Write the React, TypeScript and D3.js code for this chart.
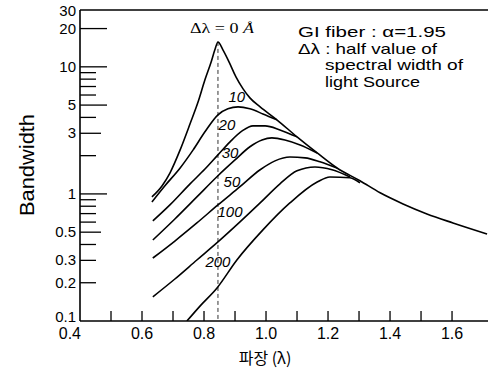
import { useEffect, useRef } from 'react';
import * as d3 from 'd3';

const W = 488;
const H = 371;

// wavelength (um) and bandwidth for each spectral width
const lambda0 = [0.632, 0.665, 0.69, 0.723, 0.755, 0.781, 0.803, 0.823, 0.835, 0.845, 0.861, 0.881, 0.903, 0.926, 0.948, 0.981, 1.035, 1.1, 1.165, 1.229, 1.303, 1.368, 1.442, 1.519, 1.603, 1.713];
const bw0 = [0.947, 1.16, 1.46, 2.22, 3.56, 5.3, 7.9, 10.9, 13.6, 15.7, 13.6, 10.9, 8.34, 6.71, 5.7, 4.84, 3.83, 2.81, 2.1, 1.6, 1.27, 1.02, 0.834, 0.696, 0.591, 0.484];

const lambda10 = [0.632, 0.674, 0.723, 0.765, 0.803, 0.845, 0.877, 0.91, 0.948, 0.99, 1.035];
const bw10 = [0.865, 1.16, 1.6, 2.22, 3.08, 4.19, 4.67, 4.84, 4.67, 4.26, 3.83];

const lambda20 = [0.635, 0.69, 0.755, 0.803, 0.845, 0.884, 0.923, 0.958, 0.997, 1.045, 1.1];
const bw20 = [0.613, 0.819, 1.2, 1.57, 2.03, 2.57, 3.13, 3.43, 3.43, 3.19, 2.81];

const lambda30 = [0.635, 0.706, 0.777, 0.845, 0.9, 0.948, 0.987, 1.019, 1.061, 1.11, 1.165];
const bw30 = [0.434, 0.635, 0.947, 1.39, 1.85, 2.35, 2.66, 2.76, 2.66, 2.43, 2.1];

const lambda50 = [0.635, 0.706, 0.777, 0.845, 0.916, 0.981, 1.029, 1.077, 1.126, 1.174, 1.229];
const bw50 = [0.313, 0.426, 0.591, 0.819, 1.14, 1.55, 1.82, 1.95, 1.92, 1.79, 1.6];

const lambda100 = [0.635, 0.706, 0.777, 0.845, 0.916, 0.981, 1.045, 1.1, 1.158, 1.213, 1.271];
const bw100 = [0.155, 0.214, 0.302, 0.419, 0.602, 0.849, 1.2, 1.52, 1.63, 1.55, 1.36];

const lambda200 = [0.745, 0.787, 0.842, 0.906, 0.99, 1.077, 1.165, 1.206, 1.271, 1.303];
const bw200 = [0.1, 0.131, 0.182, 0.302, 0.521, 0.849, 1.24, 1.36, 1.34, 1.22];

const curveNames = ['10', '20', '30', '50', '100', '200'];
const labelLambda = [0.906, 0.874, 0.884, 0.89, 0.884, 0.845];
const labelBw = [5.81, 3.49, 2.1, 1.24, 0.72, 0.291];

const peakLambda = 0.845;

const xTickValues = [0.5, 0.6, 0.7, 0.8, 0.9, 1.0, 1.1, 1.2, 1.3, 1.4, 1.5, 1.6];
const xLabelValues = [0.4, 0.6, 0.8, 1.0, 1.2, 1.4, 1.6];
const yTickValues = [0.2, 0.3, 0.4, 0.5, 0.6, 0.7, 0.8, 0.9, 1, 2, 3, 4, 5, 6, 7, 8, 9, 10, 20];
const yLongTicks = [1, 5, 10, 20];
const yMidTicks = [0.5, 3];
const yLabelValues = [0.1, 0.2, 0.3, 0.5, 1, 3, 5, 10, 20, 30];

const noteLines = ['GI fiber : \u03b1=1.95', '\u0394\u03bb : half value of', 'spectral width of', 'light Source'];

const App = () => {
  const svgRef = useRef(null);

  useEffect(() => {
    const svg = d3.select(svgRef.current);
    svg.selectAll('*').remove();

    const left = 80, right = 488, top = 10, bottom = 321;
    const sans = 'Liberation Sans, Arial, sans-serif';

    const x = d3.scaleLinear().domain([0.4, 1.716]).range([left, right]);
    const y = d3.scaleLog().domain([0.1, 28]).range([bottom, top]);

    svg.append('clipPath').attr('id', 'plotclip')
      .append('rect').attr('x', left).attr('y', top).attr('width', right - left).attr('height', bottom - top);

    // frame: top, left and bottom only
    svg.append('line').attr('x1', left).attr('x2', right).attr('y1', top).attr('y2', top)
      .attr('stroke', '#000').attr('stroke-width', 1.6);
    svg.append('line').attr('x1', left).attr('x2', left).attr('y1', top).attr('y2', bottom)
      .attr('stroke', '#000').attr('stroke-width', 1.6);
    svg.append('line').attr('x1', left).attr('x2', right).attr('y1', bottom).attr('y2', bottom)
      .attr('stroke', '#000').attr('stroke-width', 1.6);

    // y ticks point inwards
    svg.selectAll('.ytick').data(yTickValues).enter().append('line')
      .attr('x1', left)
      .attr('x2', d => left + (yLongTicks.includes(d) ? 27 : yMidTicks.includes(d) ? 21 : 16))
      .attr('y1', d => y(d)).attr('y2', d => y(d))
      .attr('stroke', '#000').attr('stroke-width', 1.3);

    svg.selectAll('.ylab').data(yLabelValues).enter().append('text')
      .attr('x', 76)
      .attr('y', d => Math.min(Math.max(y(d) + 5, 16), 322))
      .attr('text-anchor', 'end')
      .attr('font-family', sans).attr('font-size', 15)
      .text(d => String(d));

    // x ticks
    svg.selectAll('.xtick').data(xTickValues).enter().append('line')
      .attr('x1', d => x(d)).attr('x2', d => x(d))
      .attr('y1', bottom).attr('y2', bottom - 10)
      .attr('stroke', '#000').attr('stroke-width', 1.3);

    svg.selectAll('.xlab').data(xLabelValues).enter().append('text')
      .attr('x', (d, i) => (i === 0 ? x(d) + 1 : x(d)))
      .attr('y', 339)
      .attr('text-anchor', (d, i) => (i === 0 ? 'end' : 'middle'))
      .attr('font-family', sans).attr('font-size', 16)
      .text(d => d3.format('.1f')(d));

    // axis titles
    svg.append('text')
      .attr('transform', 'translate(34,165) rotate(-90)')
      .attr('text-anchor', 'middle')
      .attr('font-family', sans).attr('font-size', 20)
      .attr('textLength', 102).attr('lengthAdjust', 'spacingAndGlyphs')
      .text('Bandwidth');

    svg.append('text')
      .attr('x', 265).attr('y', 364)
      .attr('text-anchor', 'middle')
      .attr('font-family', '"Noto Sans CJK KR", sans-serif').attr('font-size', 16)
      .text('\ud30c\uc7a5 (\u03bb)');

    // dashed line at the peak wavelength
    const peakBw = bw0[lambda0.indexOf(peakLambda)];
    svg.append('line')
      .attr('x1', x(peakLambda)).attr('x2', x(peakLambda))
      .attr('y1', y(peakBw)).attr('y2', bottom)
      .attr('stroke', '#333').attr('stroke-width', 1)
      .attr('stroke-dasharray', '4,3');

    const series = [
      [lambda0, bw0],
      [lambda10, bw10],
      [lambda20, bw20],
      [lambda30, bw30],
      [lambda50, bw50],
      [lambda100, bw100],
      [lambda200, bw200],
    ];

    const line = d3.line()
      .x(d => x(d[0]))
      .y(d => y(d[1]))
      .curve(d3.curveMonotoneX);

    const g = svg.append('g').attr('clip-path', 'url(#plotclip)');
    series.forEach(([ls, bs]) => {
      g.append('path')
        .attr('d', line(ls.map((l, i) => [l, bs[i]])))
        .attr('fill', 'none')
        .attr('stroke', '#000')
        .attr('stroke-width', 1.6);
    });

    // curve labels
    curveNames.forEach((name, i) => {
      svg.append('text')
        .attr('x', x(labelLambda[i])).attr('y', y(labelBw[i]) + 5)
        .attr('text-anchor', 'middle')
        .attr('font-family', sans).attr('font-size', 15).attr('font-style', 'italic')
        .text(name);
    });

    // peak annotation
    const ann = svg.append('text')
      .attr('x', 190).attr('y', 33)
      .attr('font-family', 'Liberation Serif, serif').attr('font-size', 15)
      .attr('textLength', 64).attr('lengthAdjust', 'spacingAndGlyphs');
    ann.append('tspan').text('\u0394\u03bb = 0 ');
    ann.append('tspan').attr('font-style', 'italic').text('\u00c5');

    // note block
    const noteX = [298, 298, 325, 325];
    const noteLen = [148, 139, 138, 95];
    noteLines.forEach((t, i) => {
      svg.append('text')
        .attr('x', noteX[i]).attr('y', 37 + i * 16.5)
        .attr('font-family', sans).attr('font-size', 15)
        .attr('textLength', noteLen[i]).attr('lengthAdjust', 'spacingAndGlyphs')
        .text(t);
    });
  }, []);

  return (
    <svg
      ref={svgRef}
      width={W}
      height={H}
      style={{ position: 'absolute', left: 0, top: 0, background: '#fff' }}
    />
  );
};

export default App;
